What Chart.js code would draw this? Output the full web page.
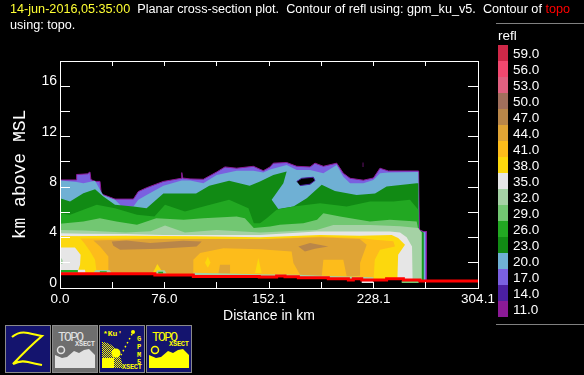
<!DOCTYPE html>
<html><head><meta charset="utf-8">
<style>
html,body{margin:0;padding:0;background:#000;width:584px;height:375px;overflow:hidden}
#stage{position:relative;width:584px;height:375px;background:#000;font-family:"Liberation Sans",sans-serif;color:#fff}
canvas#c{position:absolute;left:0;top:0}
.t{position:absolute;white-space:pre;font-size:12.65px;line-height:14px}
.hr{position:absolute;left:496px;width:88px;height:1px;background:#808080}
.sw{position:absolute;left:498px;width:10px;height:16px}
.lv{position:absolute;left:513px;font-size:13.5px;line-height:16px}
svg{position:absolute;top:325px}
svg text{font-family:"Liberation Mono",monospace;font-weight:bold}
</style>
<script src="https://cdn.jsdelivr.net/npm/chart.js@4/dist/chart.umd.min.js"></script>
</head><body>
<div id="stage">
<canvas id="c" width="584" height="375"></canvas>
<div class="t" style="left:10px;top:2px"><span style="color:#ffff33">14-jun-2016,05:35:00</span>  Planar cross-section plot.  Contour of refl using: gpm_ku_v5.  Contour of <span style="color:#ff0000">topo</span></div>
<div class="t" style="left:10px;top:18px">using: topo.</div>
<div class="hr" style="top:23px"></div>
<div class="hr" style="top:324px"></div>
<div class="t" style="left:498px;top:29px;font-size:13.5px">refl</div>
<div id="legend"></div>
<svg style="left:5px" width="46" height="48"><rect x=".5" y=".5" width="45" height="47" fill="#14146e" stroke="#8a8a8a"/><path d="M7 12Q14 6 23 8T37 11Q24 22 8 39Q15 35 23 37T37 40" fill="none" stroke="#ffff00" stroke-width="2.2"/></svg>
<svg style="left:52px" width="46" height="48"><rect x=".5" y=".5" width="45" height="47" fill="#6e6e6e" stroke="#8a8a8a"/><text x="6" y="16" font-size="13" fill="#e2e2e2" textLength="26" style="font-weight:normal">TOPO</text><text x="23" y="21" font-size="7" fill="#e2e2e2" textLength="20">XSECT</text><circle cx="9" cy="25" r="3.5" fill="none" stroke="#e2e2e2" stroke-width="1.5"/><path d="M3 43V30L10 33L15 32L22 26L27 28L32 25L37 24L43 30V43Z" fill="#e2e2e2"/></svg>
<svg style="left:99px" width="46" height="48"><defs><pattern id="d" width="2" height="2" patternUnits="userSpaceOnUse"><rect width="1" height="1" fill="#ffff00"/><rect x="1" y="1" width="1" height="1" fill="#ffff00"/></pattern></defs><rect x=".5" y=".5" width="45" height="47" fill="#14146e" stroke="#8a8a8a"/><text x="4" y="11" font-size="8" fill="#ffff00">*Ku'</text><text x="23" y="44" font-size="7" fill="#ffff00" textLength="20">XSECT</text><text x="38" y="16" font-size="7" fill="#ffff00">G</text><text x="38" y="24" font-size="7" fill="#ffff00">P</text><text x="38" y="32" font-size="7" fill="#ffff00">M</text><text x="38" y="39" font-size="7" fill="#ffff00">5</text><path d="M3 43V17C12 17 22 26 24 43Z" fill="url(#d)"/><path d="M3 43V33H15V43Z" fill="#ffff00"/><circle cx="17" cy="28" r="4.5" fill="#ffff00"/><circle cx="34" cy="7" r="2" fill="#ffff00"/><path d="M33 9L21 32" stroke="#ffff00" stroke-dasharray="1.5 3" stroke-width="1.5"/></svg>
<svg style="left:146px" width="46" height="48"><rect x=".5" y=".5" width="45" height="47" fill="#14146e" stroke="#8a8a8a"/><text x="6" y="16" font-size="13" fill="#ffff00" textLength="26" style="font-weight:normal">TOPO</text><text x="23" y="21" font-size="7" fill="#ffff00" textLength="20">XSECT</text><circle cx="9" cy="25" r="3.5" fill="none" stroke="#ffff00" stroke-width="1.5"/><path d="M3 43V30L10 33L15 32L22 26L27 28L32 25L37 24L43 30V43Z" fill="#ffff00"/></svg>
</div>
<script>
// Axis ticks
const xTickValues=[0,38,76,114,152.05,190.1,228.1,266.1,304.1];
const xTickLabels=['0.0','','76.0','','152.1','','228.1','','304.1'];
const yTickValues=[0,2,4,6,8,10,12,14,16,18];
const yTickLabels=['0','','4','','8','','12','','16',''];
// Colour bar
const levels=[59,56,53,50,47,44,41,38,35,32,29,26,23,20,17,14,11];
const levelColors=['#cf2848','#f2486f','#e06080','#a16f5c','#b98649','#e0a435','#fdbc1b','#fcd80d','#e6e6e6','#a5d2a5','#72c772','#22a822','#118a14','#6fb0d4','#7a60e0','#4b1fa0','#8b1a96'];
// Contour outlines, [distance km, height km]
const top17=[[0,8.57],[12.1,8.57],[12.1,9.0],[20,9.05],[21.8,9.2],[22.5,8.6],[25.5,8.45],[29.1,8.45],[30,7.5],[31.5,7.4],[40,7.05],[53.4,7.05],[57,7.65],[63,7.95],[75.2,8.45],[88.3,8.7],[88.6,9.15],[89.2,8.72],[94.6,8.65],[104.3,8.62],[114,9.2],[120,9.6],[128.5,9.5],[140.7,9.65],[147.9,9.3],[152.8,9.6],[155.2,9.9],[164.9,9.95],[172.2,9.65],[181.9,9.6],[185.5,9.9],[191.6,9.65],[201.3,9.9],[206.1,9.1],[211,8.7],[220.7,8.55],[228,8.72],[232.8,9.5],[238.9,9.28],[260.9,9.28],[261.4,4.62],[264.3,4.48],[266.6,4.48]];
const top20=[[0,8.52],[12.1,8.4],[17,8.31],[25.5,8.5],[29.1,7.8],[31.5,7.35],[40,6.99],[44.9,6.46],[53.4,6.46],[57,6.99],[63,7.38],[75.2,8.1],[88.5,8.52],[94.6,8.52],[104.3,8.31],[114,8.97],[128.5,9.3],[140.7,9.3],[147.9,9.15],[152.8,9.4],[164.9,9.76],[172.2,9.36],[181.9,9.36],[191.6,9.1],[201.3,9.76],[206.1,8.83],[211,8.31],[220.7,8.31],[228,8.57],[232.8,9.1],[238.9,9.15],[260.7,9.2],[261.2,4.5],[265.6,4.4]];
const top23=[[0,7.12],[7.3,6.86],[17,7.52],[25.5,7.83],[31.5,7.25],[40,6.6],[53.4,6.46],[63,6.33],[75.2,7.5],[88.5,7.5],[99,7.5],[108.6,8.1],[123,8.5],[138,8.1],[145.5,8.44],[155.2,8.97],[164.9,9.23],[162.5,8.31],[154,6.99],[158.8,6.26],[169.8,6.46],[179.5,7.12],[190.4,8.18],[200,7.7],[215.8,7.38],[229.2,7.5],[237.6,8.04],[259.5,8.31],[260.7,8.31],[260.9,4.6],[264.6,4.4]];
const top26=[[0,5.93],[7.3,5.8],[17,6.2],[26.7,6.6],[40,6.33],[56,5.8],[68.7,5.67],[76.4,6.6],[90.9,6.07],[104.3,6.46],[123,7.0],[137.1,6.33],[141,5.14],[145.5,5.14],[150.4,5.54],[157.6,6.2],[169.8,6.46],[189.2,6.72],[208.6,6.46],[225.5,6.85],[242.5,6.85],[254.6,6.99],[260.7,6.2],[260.9,4.6],[263.8,4.4]];
const top29=[[0,5.09],[17,5.27],[29,5.54],[41,5.27],[56,5.01],[70,5.54],[90,5.41],[104.3,5.54],[128.5,5.67],[134.5,5.54],[141,4.75],[152.8,4.88],[160,5.01],[177,5.14],[187,5.41],[191.6,5.93],[203.7,5.67],[225.5,5.27],[240,5.41],[259.5,5.27],[260.7,4.6],[263.2,4.4]];
const top32=[[0,4.6],[17,4.55],[48,4.4],[66,4.5],[76.4,4.95],[90.9,4.4],[114,4.6],[145.5,4.4],[186.7,4.6],[198.9,5.0],[225.5,5.0],[247.4,4.9],[260.7,4.75],[263,4.4]];
const top35=[[0,4.35],[17,4.3],[48,4.29],[75,4.2],[145.5,4.2],[186.7,4.48],[208.6,4.48],[240,4.48],[247.4,4.4],[252.2,4.03],[256.1,3.3],[256.6,0.5]];
const top38=[[0,4.1],[48,4.14],[100,4.1],[145.5,4.03],[189.2,4.2],[218,4.14],[241.3,4.2],[246,3.96],[251,3.43],[246,2.64],[245.4,0.5]];
const top41=[[0,3.93],[100,3.9],[145.5,3.88],[189.2,4.09],[218,3.96],[229,3.82],[242.5,3.7],[243.7,3.3],[232.8,3.03],[229,2.24],[228,0.5]];
// Closed low-level patches, [distance km, height km]
const speck=[[220.2,9.95],[220.7,9.95],[220.7,9.6],[220.2,9.6]];
const patch38Left=[[0,4.1],[14,4.05],[18,3.5],[22,2.9],[25.5,2.24],[26.7,1.19],[0,1.19]];
const patch35Left=[[0,3.22],[10.9,3.22],[15,2.64],[14.6,1.85],[12.6,1.19],[0,1.19]];
const patch32Left=[[0,2.5],[2,2.2],[1.8,1.9],[0,1.9]];
const patch44=[[24.3,3.77],[65.5,3.88],[152.8,3.88],[189.2,4.03],[218,3.88],[223.1,3.43],[218.3,1.98],[218.3,0.98],[208.6,0.92],[206.1,2.24],[191.6,2.24],[190.4,0.92],[174.6,1.05],[169.8,1.98],[168.5,2.9],[145.5,3.08],[118.8,3.16],[101.9,2.77],[97,2.24],[97,1.13],[35.2,1.13],[35.2,2.5],[29.1,3.3]];
const patch44Small=[[115.2,1.13],[116.4,1.85],[123.7,1.85],[123.7,1.13]];
const patch38A=[[105.5,2],[107.5,2.5],[109.5,2],[107.5,1.6]];
const patch38B=[[141.9,1.19],[144.3,2.37],[146.7,1.19]];
const patch38C=[[67.5,1.19],[70.8,1.9],[75,1.19]];
const patch47A=[[37.6,3.69],[48.5,3.77],[65.5,3.56],[89.7,3.74],[103.1,3.69],[99.4,3.3],[72.8,3.11],[43.7,3.03],[38.8,3.35]];
const patch47B=[[173.4,3.3],[181.9,3.56],[195.2,3.3],[185.5,3.11],[178.2,2.9]];
const hole=[[172.2,8.44],[175.8,8.7],[184.3,8.78],[185.5,8.52],[181.9,8.23],[174.6,8.12]];
const lowGreen1=[[0.7,1.42],[13.3,1.42],[13.3,1.2],[0.7,1.2]];
const lowWhite1=[[13,1.45],[18.2,1.45],[18.5,1.2],[13,1.2]];
const lowPale2=[[24.2,1.2],[26,1.42],[36,1.42],[37.6,1.2]];
const lowGreen2=[[29,1.2],[29,1.32],[34,1.32],[34,1.2]];
const lowPale3=[[69,1.15],[71,1.4],[76,1.4],[77.6,1.15]];
const lowGreen3=[[71.5,1.15],[71.5,1.28],[75,1.28],[75,1.15]];
const fringe=[[97,1.2],[145,1.1],[173,1.05],[195,0.95],[228,0.85],[228,0.7],[97,0.9]];
const underWhite=[[219.5,0.55],[228,0.55],[228,0.4],[219.5,0.4]];
const underGreen=[[248.6,0.55],[261,0.55],[261,0.4],[248.6,0.4]];
// Terrain line
const topo=[[0,1.13],[69,1.13],[69,1.03],[97,1.03],[97,0.92],[145,0.92],[145,0.87],[157.6,0.87],[157.6,0.95],[163.7,0.95],[163.7,0.89],[173.4,0.89],[173.4,0.82],[195.2,0.82],[195.2,0.74],[209.8,0.74],[209.8,0.63],[213.4,0.63],[213.4,0.74],[219.5,0.74],[219.5,0.63],[237.6,0.63],[237.6,0.74],[249.8,0.74],[249.8,0.63],[261.9,0.63],[261.9,0.55],[304.1,0.55]];

const col=v=>levelColors[levels.indexOf(v)];
const legend=document.getElementById('legend');
levels.forEach((v,i)=>{
  const s=document.createElement('div');s.className='sw';s.style.top=(45+i*16)+'px';s.style.background=levelColors[i];legend.appendChild(s);
  const l=document.createElement('div');l.className='lv';l.style.top=(46+i*16)+'px';l.textContent=v.toFixed(1);legend.appendChild(l);
});
const toPts=a=>a.map(p=>({x:p[0],y:p[1]}));
const down=a=>a.concat([[a[a.length-1][0],0],[a[0][0],0]]);
const shape=(a,c,extra)=>Object.assign({data:toPts(a),fill:'shape',backgroundColor:c,borderColor:c,borderWidth:0,pointRadius:0,tension:0},extra||{});
const painted=[
  shape(speck,col(11)),
  shape(down(top17),col(17),{borderColor:col(11),borderWidth:1}),
  shape(down(top20),col(20)),shape(down(top23),col(23)),shape(down(top26),col(26)),
  shape(down(top29),col(29)),shape(down(top32),col(32)),shape(down(top35),col(35)),
  shape(down(top38),col(38)),shape(down(top41),col(41)),
  shape(patch38Left,col(38)),shape(patch35Left,col(35)),shape(patch32Left,col(32)),
  shape(patch44,col(44)),shape(patch44Small,col(44)),
  shape(patch38A,col(38)),shape(patch38B,col(38)),shape(patch38C,col(38)),
  shape(patch47A,col(47)),shape(patch47B,col(47)),
  shape(hole,'#000',{borderColor:col(14),borderWidth:1}),
  shape(lowGreen1,col(26)),shape(lowWhite1,col(35)),shape(lowPale2,col(32)),shape(lowGreen2,col(26)),
  shape(lowPale3,col(32)),shape(lowGreen3,col(26)),shape(fringe,col(32)),
  {data:toPts(topo),fill:'origin',backgroundColor:'#000',borderWidth:0,pointRadius:0,tension:0},
  shape(underWhite,col(35)),shape(underGreen,col(29)),
  {data:toPts(topo),fill:false,borderColor:'#ff0000',borderWidth:3,pointRadius:0,tension:0}
];
const size=n=>s=>{if(s.isHorizontal())s.height=n;else s.width=n;};
const setTicks=vals=>s=>{s.ticks=vals.map(v=>({value:v}));};
const gridOf=n=>({color:'#fff',drawOnChartArea:false,tickLength:-n,z:1,lineWidth:1});
const bord={color:'#fff',width:1,z:1};
new Chart(document.getElementById('c'),{
  type:'line',
  data:{datasets:painted.reverse()},
  options:{responsive:false,animation:false,parsing:true,normalized:false,
    layout:{padding:0},
    plugins:{legend:{display:false},tooltip:{enabled:false},title:{display:false}},
    elements:{line:{capBezierPoints:false,borderJoinStyle:'miter'}},
    scales:{
      x:{type:'linear',position:'bottom',min:0,max:304.1,grid:gridOf(6),border:bord,
        afterBuildTicks:setTicks(xTickValues),afterFit:size(87),
        ticks:{color:'#fff',font:{family:'Liberation Sans',size:13.5},autoSkip:false,maxRotation:0,padding:9,callback:(v,i)=>xTickLabels[i]},
        title:{display:true,text:'Distance in km',color:'#fff',font:{family:'Liberation Sans',size:14},padding:{top:0,bottom:50}}},
      x2:{type:'linear',position:'top',min:0,max:304.1,grid:gridOf(5),border:bord,
        afterBuildTicks:setTicks(xTickValues),afterFit:size(61),ticks:{display:false}},
      y:{type:'linear',position:'left',min:0,max:18,grid:gridOf(10),border:bord,
        afterBuildTicks:setTicks(yTickValues),afterFit:size(60),
        ticks:{color:'#fff',font:{family:'Liberation Sans',size:14},autoSkip:false,padding:13,labelOffset:-5,callback:(v,i)=>yTickLabels[i]},
        title:{display:true,text:'km above MSL',color:'#fff',font:{family:'Liberation Mono',size:18},padding:{top:9,bottom:0}}},
      y2:{type:'linear',position:'right',min:0,max:18,grid:gridOf(10),border:bord,
        afterBuildTicks:setTicks(yTickValues),afterFit:size(106),ticks:{display:false}}
    }
  }
});
</script>
</body></html>
